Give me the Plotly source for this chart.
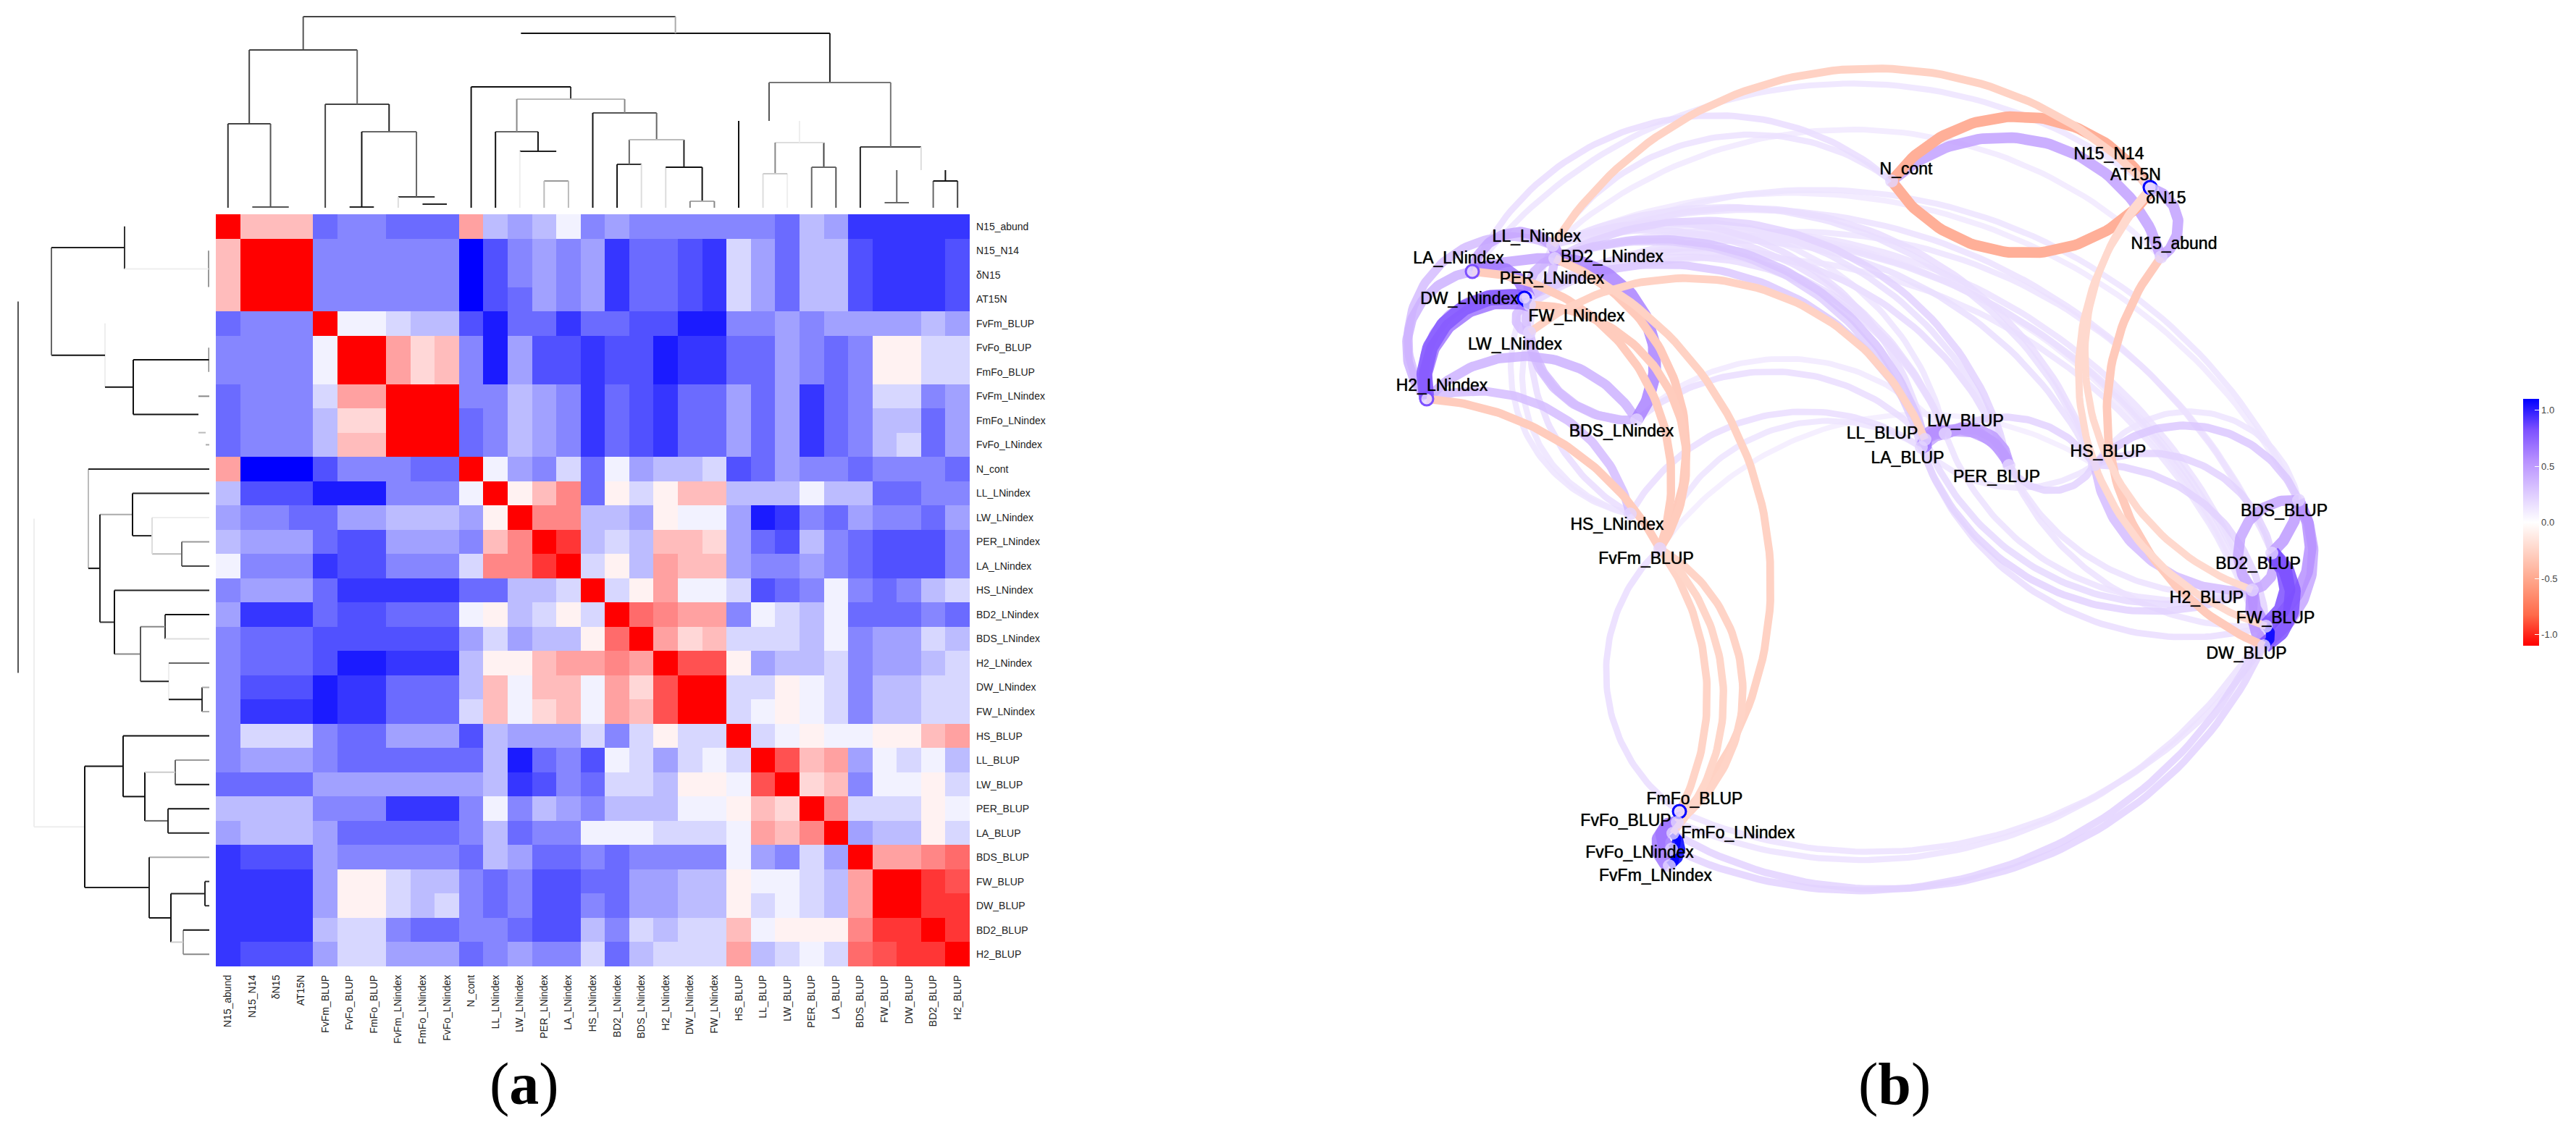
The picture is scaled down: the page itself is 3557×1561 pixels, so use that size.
import numpy as np
import plotly.colors as pc
import plotly.graph_objects as go

W, H = 3557, 1561

## HEATMAP DATA (palette steps: odd ints, -19 blue .. 19 red)
LABELS = ['N15_abund', 'N15_N14', 'δN15', 'AT15N', 'FvFm_BLUP', 'FvFo_BLUP', 'FmFo_BLUP',
          'FvFm_LNindex', 'FmFo_LNindex', 'FvFo_LNindex', 'N_cont', 'LL_LNindex', 'LW_LNindex',
          'PER_LNindex', 'LA_LNindex', 'HS_LNindex', 'BD2_LNindex', 'BDS_LNindex', 'H2_LNindex',
          'DW_LNindex', 'FW_LNindex', 'HS_BLUP', 'LL_BLUP', 'LW_BLUP', 'PER_BLUP', 'LA_BLUP',
          'BDS_BLUP', 'FW_BLUP', 'DW_BLUP', 'BD2_BLUP', 'H2_BLUP']

CORR = [
    [19,5,5,5,-11,-9,-9,-11,-11,-11,7,-5,-7,-5,-1,-9,-7,-9,-9,-9,-9,-9,-9,-11,-5,-7,-15,-15,-15,-15,-15],
    [5,19,19,19,-9,-9,-9,-9,-9,-9,-19,-13,-9,-7,-9,-7,-15,-11,-11,-13,-15,-3,-7,-11,-5,-5,-13,-15,-15,-15,-13],
    [5,19,19,19,-9,-9,-9,-9,-9,-9,-19,-13,-9,-7,-9,-7,-15,-11,-11,-13,-15,-3,-7,-11,-5,-5,-13,-15,-15,-15,-13],
    [5,19,19,19,-9,-9,-9,-9,-9,-9,-19,-13,-11,-7,-9,-7,-15,-11,-11,-13,-15,-3,-7,-11,-5,-5,-13,-15,-15,-15,-13],
    [-11,-9,-9,-9,19,-1,-1,-3,-5,-5,-13,-17,-11,-11,-15,-11,-11,-13,-13,-17,-17,-9,-9,-7,-9,-7,-7,-7,-7,-5,-7],
    [-9,-9,-9,-9,-1,19,19,7,3,5,-9,-17,-7,-13,-13,-15,-13,-13,-17,-15,-15,-11,-11,-7,-9,-11,-9,1,1,-3,-3],
    [-9,-9,-9,-9,-1,19,19,7,3,5,-9,-17,-7,-13,-13,-15,-13,-13,-17,-15,-15,-11,-11,-7,-9,-11,-9,1,1,-3,-3],
    [-11,-9,-9,-9,-3,7,7,19,19,19,-9,-9,-5,-7,-9,-15,-11,-13,-15,-11,-11,-7,-11,-7,-15,-11,-9,-3,-3,-9,-7],
    [-11,-9,-9,-9,-5,3,3,19,19,19,-11,-9,-5,-7,-9,-15,-11,-13,-15,-11,-11,-7,-11,-7,-15,-11,-9,-5,-5,-11,-7],
    [-11,-9,-9,-9,-5,5,5,19,19,19,-11,-9,-5,-7,-9,-15,-11,-13,-15,-11,-11,-7,-11,-7,-15,-11,-9,-5,-3,-11,-7],
    [7,-19,-19,-19,-13,-9,-9,-9,-11,-11,19,-1,-7,-9,-3,-11,-1,-7,-5,-5,-3,-13,-11,-7,-9,-9,-11,-9,-9,-9,-11],
    [-5,-13,-13,-13,-17,-17,-17,-9,-9,-9,-1,19,1,5,9,-11,1,-3,1,5,5,-5,-5,-5,-1,-5,-5,-11,-11,-9,-9],
    [-7,-9,-9,-11,-11,-7,-7,-5,-5,-5,-7,1,19,9,9,-5,-5,-7,1,-1,-1,-7,-17,-15,-9,-11,-7,-9,-9,-11,-7],
    [-5,-7,-7,-7,-11,-13,-13,-7,-7,-7,-9,5,9,19,15,-5,-3,-5,5,5,3,-7,-11,-13,-5,-9,-11,-13,-13,-13,-9],
    [-1,-9,-9,-9,-15,-13,-13,-9,-9,-9,-3,9,9,15,19,-3,1,-5,7,5,5,-7,-9,-9,-7,-9,-11,-13,-13,-13,-9],
    [-9,-7,-7,-7,-11,-15,-15,-15,-15,-15,-11,-11,-5,-5,-3,19,-3,1,7,-1,-1,-3,-13,-11,-9,-1,-9,-11,-9,-5,-3],
    [-7,-15,-15,-15,-11,-13,-13,-11,-11,-11,-1,1,-5,-3,1,-3,19,11,9,7,7,-9,-1,-3,-5,-1,-11,-11,-11,-9,-11],
    [-9,-11,-11,-11,-13,-13,-13,-13,-13,-13,-7,-3,-7,-5,-5,1,11,19,7,3,5,-3,-3,-3,-5,-1,-9,-7,-7,-3,-5],
    [-9,-11,-11,-11,-13,-17,-17,-15,-15,-15,-5,1,1,5,7,7,9,7,19,13,13,1,-7,-5,-5,-3,-9,-7,-7,-5,-3],
    [-9,-13,-13,-13,-17,-15,-15,-11,-11,-11,-5,5,-1,5,5,-1,7,3,13,19,19,-3,-3,1,-1,-3,-9,-5,-5,-3,-3],
    [-9,-15,-15,-15,-17,-15,-15,-11,-11,-11,-3,5,-1,3,5,-1,7,5,13,19,19,-3,-1,1,-1,-3,-9,-5,-5,-3,-3],
    [-9,-3,-3,-3,-9,-11,-11,-7,-7,-7,-13,-5,-7,-7,-7,-3,-9,-3,1,-3,-3,19,-3,-1,1,-1,-1,1,1,5,7],
    [-9,-7,-7,-7,-9,-11,-11,-11,-11,-11,-11,-5,-17,-11,-9,-13,-1,-3,-7,-3,-1,-3,19,13,5,7,-7,-1,-3,-1,-5],
    [-11,-11,-11,-11,-7,-7,-7,-7,-7,-7,-7,-5,-15,-13,-9,-11,-3,-3,-5,1,1,-1,13,19,3,5,-9,-1,-1,1,-3],
    [-5,-5,-5,-5,-9,-9,-9,-15,-15,-15,-9,-1,-9,-5,-7,-9,-5,-5,-5,-1,-1,1,5,3,19,9,-3,-3,-3,1,-1],
    [-7,-5,-5,-5,-7,-11,-11,-11,-11,-11,-9,-5,-11,-9,-9,-1,-1,-1,-3,-3,-3,-1,7,5,9,19,-7,-5,-5,1,-3],
    [-15,-13,-13,-13,-7,-9,-9,-9,-9,-9,-11,-5,-7,-11,-11,-9,-11,-9,-9,-9,-9,-1,-7,-9,-3,-7,19,7,7,9,11],
    [-15,-15,-15,-15,-7,1,1,-3,-5,-5,-9,-11,-9,-13,-13,-11,-11,-7,-7,-5,-5,1,-1,-1,-3,-5,7,19,19,15,13],
    [-15,-15,-15,-15,-7,1,1,-3,-5,-3,-9,-11,-9,-13,-13,-9,-11,-7,-7,-5,-5,1,-3,-1,-3,-5,7,19,19,15,15],
    [-15,-15,-15,-15,-5,-3,-3,-9,-11,-11,-9,-9,-11,-13,-13,-5,-9,-3,-5,-3,-3,5,-1,1,1,1,9,15,15,19,15],
    [-15,-13,-13,-13,-7,-3,-3,-7,-7,-7,-11,-9,-7,-9,-9,-3,-11,-5,-3,-3,-3,7,-5,-3,-1,-3,11,13,15,15,19],
]

## DENDROGRAM DATA: merges are (a, b), ids >= 31 point at an earlier merge
MERGES = [(2,3),(1,31),(0,32),(8,9),(7,34),(5,6),(36,35),(4,37),(33,38),(13,14),(12,40),(11,41),
          (19,20),(18,43),(16,17),(45,44),(15,46),(42,47),(10,48),(22,23),(24,25),(50,51),(21,52),
          (27,28),(29,30),(54,55),(26,56),(53,57),(49,58),(39,59)]
TOP_HEIGHT  = [-4,1,116,5,15,1,105,143,218,37,78,105,9,56,60,94,131,150,167,47,56,90,120,7,37,52,84,173,241,264]
SIDE_HEIGHT = [-4,1,117,5,15,0.5,105,144,218,38,79,106,10,56,61,95,131,151,167,47,57,89,119,6,36,53,83,172,242,264]

# grey of (bar, link a, link b) per merge, thin lines went uneven in the scan
TOP_GREY = ['fff','5ff','435','2ff','3df','2ff','616','442','446','9bb','2ef','611','a88','1d1','31d','b62',
            '516','b88','113','cde','665','d84','f1e','6ff','164','f61','42d','757','1f2','45a']
SIDE_GREY = ['fff','9ff','3fe','ffa','f8b','8ff','111','ef1','621','694','deb','122','3aa','e61','31d','582',
             '128','2a3','b21','691','212','1c6','111','233','918','12c','2a1','112','efe','5ff']

## NETWORK DATA
NODE_X = {'N_cont':2612,'N15_N14':2966,'AT15N':2969,'δN15':2972,'N15_abund':2984,
          'LL_LNindex':2144,'BD2_LNindex':2147,'LA_LNindex':2033,'PER_LNindex':2110,'DW_LNindex':2105,
          'FW_LNindex':2112,'LW_LNindex':2112,'H2_LNindex':1970,'BDS_LNindex':2260,'HS_LNindex':2251,
          'FvFm_BLUP':2292,'LL_BLUP':2658,'LA_BLUP':2653,'LW_BLUP':2686,'PER_BLUP':2774,'HS_BLUP':2892,
          'BDS_BLUP':3174,'BD2_BLUP':3137,'H2_BLUP':3110,'FW_BLUP':3129,'DW_BLUP':3126,
          'FmFo_BLUP':2319,'FvFo_BLUP':2316,'FmFo_LNindex':2310,'FvFo_LNindex':2308,'FvFm_LNindex':2305}
NODE_Y = {'N_cont':250,'N15_N14':256,'AT15N':259,'δN15':262,'N15_abund':355,
          'LL_LNindex':339,'BD2_LNindex':357,'LA_LNindex':375,'PER_LNindex':411,'DW_LNindex':412,
          'FW_LNindex':421,'LW_LNindex':459,'H2_LNindex':551,'BDS_LNindex':580,'HS_LNindex':710,
          'FvFm_BLUP':758,'LL_BLUP':607,'LA_BLUP':618,'LW_BLUP':599,'PER_BLUP':643,'HS_BLUP':642,
          'BDS_BLUP':691,'BD2_BLUP':764,'H2_BLUP':815,'FW_BLUP':865,'DW_BLUP':892,
          'FmFo_BLUP':1121,'FvFo_BLUP':1136,'FmFo_LNindex':1151,'FvFo_LNindex':1173,'FvFm_LNindex':1196}
TEXT_X = {'N_cont':2632,'N15_N14':2912,'AT15N':2949,'δN15':2991,'N15_abund':3002,
          'LL_LNindex':2122,'BD2_LNindex':2226,'LA_LNindex':2014,'PER_LNindex':2143,'DW_LNindex':2029,
          'FW_LNindex':2177,'LW_LNindex':2092,'H2_LNindex':1991,'BDS_LNindex':2239,'HS_LNindex':2233,
          'FvFm_BLUP':2273,'LL_BLUP':2599,'LA_BLUP':2634,'LW_BLUP':2714,'PER_BLUP':2757,'HS_BLUP':2911,
          'BDS_BLUP':3154,'BD2_BLUP':3118,'H2_BLUP':3047,'FW_BLUP':3142,'DW_BLUP':3102,
          'FmFo_BLUP':2340,'FvFo_BLUP':2245,'FmFo_LNindex':2400,'FvFo_LNindex':2264,'FvFm_LNindex':2286}
TEXT_Y = {'N_cont':235,'N15_N14':214,'AT15N':243,'δN15':275,'N15_abund':338,
          'LL_LNindex':328,'BD2_LNindex':356,'LA_LNindex':358,'PER_LNindex':386,'DW_LNindex':414,
          'FW_LNindex':438,'LW_LNindex':477,'H2_LNindex':534,'BDS_LNindex':597,'HS_LNindex':726,
          'FvFm_BLUP':773,'LL_BLUP':600,'LA_BLUP':634,'LW_BLUP':583,'PER_BLUP':660,'HS_BLUP':625,
          'BDS_BLUP':707,'BD2_BLUP':780,'H2_BLUP':827,'FW_BLUP':855,'DW_BLUP':904,
          'FmFo_BLUP':1105,'FvFo_BLUP':1135,'FmFo_LNindex':1152,'FvFo_LNindex':1179,'FvFm_LNindex':1211}
# nodes with a thin coloured rim
NODE_RIM = {'AT15N':'#0000ff','DW_LNindex':'#0000ff','FmFo_BLUP':'#0000ff','LA_LNindex':'#7d50ff','H2_LNindex':'#7d50ff'}

# node a, node b, correlation, bend of the arc (sagitta / chord, + is left of a->b on screen)
EDGES_N = [
    ('N_cont','N15_N14',-.42,.26), ('N_cont','δN15',-.42,-.26), ('N_cont','N15_abund',.42,.28),
    ('AT15N','N15_abund',.42,.32), ('N15_N14','AT15N',.98,.3), ('AT15N','δN15',.98,-.3),
    ('LA_LNindex','N_cont',.15,.25), ('LL_LNindex','N_cont',.13,.22), ('LA_LNindex','AT15N',.12,.21),
    ('LL_LNindex','N15_abund',.1,.2), ('LL_LNindex','AT15N',-.24,.245),
    ('AT15N','H2_BLUP',-.2,-.27), ('δN15','FW_BLUP',-.2,-.28), ('N15_abund','DW_BLUP',-.28,-.25),
]
EDGES_LEFT = [
    ('H2_LNindex','DW_LNindex',.72,.28), ('H2_LNindex','FW_LNindex',.6,.28), ('DW_LNindex','FW_LNindex',1.0,-.3),
    ('H2_LNindex','LA_LNindex',.35,.3), ('H2_LNindex','PER_LNindex',.4,.3), ('H2_LNindex','LL_LNindex',.3,.38),
    ('LA_LNindex','LL_LNindex',.4,.3), ('LA_LNindex','BD2_LNindex',.4,.05), ('LA_LNindex','PER_LNindex',.6,.25),
    ('LL_LNindex','PER_LNindex',.3,.2), ('PER_LNindex','BD2_LNindex',.35,.2), ('LL_LNindex','BD2_LNindex',.5,.2),
    ('BD2_LNindex','BDS_LNindex',.55,.3), ('H2_LNindex','BDS_LNindex',.35,.25), ('H2_LNindex','HS_LNindex',.3,.22),
    ('PER_LNindex','BDS_LNindex',.3,-.25), ('LW_LNindex','BDS_LNindex',.3,-.2), ('FW_LNindex','LW_LNindex',.3,-.5),
    ('PER_LNindex','HS_LNindex',.12,-.25), ('LW_LNindex','HS_LNindex',.12,-.22), ('LL_LNindex','HS_LNindex',.15,-.2),
    ('H2_LNindex','FvFm_BLUP',-.27,.13), ('LA_LNindex','FvFm_BLUP',-.27,.25), ('FW_LNindex','FvFm_BLUP',-.27,.3),
    ('BD2_LNindex','FvFm_BLUP',-.28,.23), ('BD2_LNindex','FvFo_BLUP',-.24,.26), ('LW_LNindex','LL_BLUP',-.24,.25),
]
EDGES_CROSS = [
    ('BD2_LNindex','LL_BLUP',.27,.22), ('PER_LNindex','LL_BLUP',.25,.22), ('LL_LNindex','LW_BLUP',.15,.2),
    ('BD2_LNindex','PER_BLUP',.2,.25), ('LL_LNindex','PER_BLUP',.14,.22), ('PER_LNindex','PER_BLUP',.14,.24),
    ('BD2_LNindex','HS_BLUP',.15,.24), ('LL_LNindex','HS_BLUP',.14,.22), ('LL_LNindex','BD2_BLUP',.13,.2),
    ('BD2_LNindex','FW_BLUP',.14,.2), ('BD2_LNindex','H2_BLUP',.13,.2), ('PER_LNindex','DW_BLUP',.12,.22),
    ('LL_LNindex','BDS_BLUP',.1,.2), ('FW_LNindex','BD2_BLUP',.12,.23), ('BD2_LNindex','LW_BLUP',.12,.25),
    ('FW_LNindex','LW_BLUP',.16,.24), ('PER_LNindex','LW_BLUP',.16,.24), ('DW_LNindex','PER_BLUP',.14,.24),
    ('BD2_LNindex','LA_BLUP',.22,.22), ('LL_LNindex','LL_BLUP',.16,.24), ('LL_LNindex','DW_BLUP',.1,.2),
    ('BD2_LNindex','BDS_BLUP',.12,.22), ('PER_LNindex','HS_BLUP',.14,.22), ('BD2_LNindex','DW_BLUP',.13,.21),
    ('HS_LNindex','LA_BLUP',.15,.22), ('BDS_LNindex','LL_BLUP',.15,.2), ('BDS_LNindex','LW_BLUP',.1,.22),
    ('FvFm_BLUP','LA_BLUP',.12,.25), ('FvFm_BLUP','HS_BLUP',.08,.2),
]
EDGES_RIGHT = [
    ('LL_BLUP','LA_BLUP',.6,.3), ('LL_BLUP','LW_BLUP',.5,.3), ('LA_BLUP','LW_BLUP',.5,.25),
    ('LL_BLUP','PER_BLUP',.45,.25), ('LW_BLUP','PER_BLUP',.45,.27), ('LA_BLUP','PER_BLUP',.4,.28),
    ('LW_BLUP','HS_BLUP',.2,.2), ('PER_BLUP','HS_BLUP',.2,-.3), ('LA_BLUP','HS_BLUP',.12,-.18),
    ('LL_BLUP','H2_BLUP',.17,-.2), ('LA_BLUP','H2_BLUP',.2,-.22), ('LA_BLUP','FW_BLUP',.15,-.2),
    ('LW_BLUP','H2_BLUP',.13,-.2), ('PER_BLUP','H2_BLUP',.13,-.17), ('PER_BLUP','FW_BLUP',.13,-.16),
    ('HS_BLUP','H2_BLUP',.3,-.2), ('HS_BLUP','BDS_BLUP',.25,.27), ('HS_BLUP','BD2_BLUP',.2,.24), ('HS_BLUP','FW_BLUP',.2,.2),
    ('HS_BLUP','BDS_BLUP',.12,.34), ('BDS_BLUP','FW_BLUP',.5,.2), ('BDS_BLUP','DW_BLUP',.4,.2),
    ('BDS_BLUP','H2_BLUP',.4,-.35), ('BDS_BLUP','BD2_BLUP',.45,.1), ('BD2_BLUP','FW_BLUP',.75,.25), ('BD2_BLUP','DW_BLUP',.75,.27),
    ('BD2_BLUP','H2_BLUP',.4,.25), ('H2_BLUP','FW_BLUP',.5,-.1), ('H2_BLUP','DW_BLUP',.5,-.1), ('FW_BLUP','DW_BLUP',1.0,.3),
]
EDGES_BOTTOM = [
    ('FvFm_BLUP','FmFo_BLUP',.15,-.24), ('FmFo_BLUP','DW_BLUP',.13,-.18), ('FvFo_BLUP','FW_BLUP',.13,-.19),
    ('FmFo_LNindex','DW_BLUP',.2,-.22), ('FvFo_LNindex','FW_BLUP',.2,-.21), ('FmFo_BLUP','FvFo_BLUP',.5,.3),
    ('FvFo_BLUP','FvFo_LNindex',.6,-.45), ('FvFo_BLUP','FvFm_LNindex',.6,-.35), ('FmFo_LNindex','FvFo_LNindex',1.0,.3),
    ('FvFo_LNindex','FvFm_LNindex',1.0,.3), ('FmFo_LNindex','FvFm_LNindex',1.0,.3),
    ('FvFm_BLUP','FmFo_BLUP',-.23,.14), ('FvFm_BLUP','FvFo_BLUP',-.23,.27), ('FvFm_BLUP','FmFo_LNindex',-.22,.2),
]
EDGES = EDGES_N + EDGES_LEFT + EDGES_CROSS + EDGES_RIGHT + EDGES_BOTTOM

BAR_TICKS = [1.0, 0.5, 0.0, -0.5, -1.0]
BAR_TEXT = ['1.0', '0.5', '0.0', '-0.5', '-1.0']

EDGE_SCALE = [[0, '#ff0000'], [.125, '#ff6a4a'], [.25, '#ffa084'], [.375, '#ffd0c2'], [.5, '#ffffff'],
              [.625, '#dcc8ff'], [.75, '#b790ff'], [.875, '#7d50ff'], [1, '#0000ff']]
HEAT_SCALE = [[0, '#0000ff'], [.5, '#ffffff'], [1, '#ff0000']]


def arc(a, b, bend, n=70):
    # circular arc from a to b, through the point bend*chord off the middle
    ax, ay, bx, by = NODE_X[a], NODE_Y[a], NODE_X[b], NODE_Y[b]
    dx, dy = bx - ax, by - ay
    chord = np.hypot(dx, dy)
    nx, ny = dy / chord, -dx / chord
    sag = bend * chord
    r = (chord**2 / 4 + sag**2) / (2 * abs(sag))
    tx, ty = (ax + bx) / 2 + nx * sag, (ay + by) / 2 + ny * sag
    cx, cy = tx - nx * np.sign(sag) * r, ty - ny * np.sign(sag) * r
    mid = np.arctan2(ty - cy, tx - cx)
    wrap = lambda v: (v + np.pi) % (2 * np.pi) - np.pi
    ang = mid + np.linspace(wrap(np.arctan2(ay - cy, ax - cx) - mid), wrap(np.arctan2(by - cy, bx - cx) - mid), n)
    return cx + r * np.cos(ang), cy + r * np.sin(ang)


def dendro_lines(heights, greys):
    # (position along the leaves, height) runs per grey
    pos, top = {i: i for i in range(31)}, {i: 0 for i in range(31)}
    runs = {}
    for i, ((a, b), h, g) in enumerate(zip(MERGES, heights, greys)):
        idx = i + 31
        pos[idx], top[idx] = (pos[a] + pos[b]) / 2, h
        parts = [(g[0], [pos[a], pos[b]], [h, h]), (g[1], [pos[a], pos[a]], [top[a], h]),
                 (g[2], [pos[b], pos[b]], [top[b], h])]
        for tone, p, v in parts:
            if tone != 'f':
                run = runs.setdefault(tone, ([], []))
                run[0].extend(p + [None])
                run[1].extend(v + [None])
    return runs


fig = go.Figure()

# panel (a)
fig.add_trace(go.Heatmap(z=CORR, x=list(range(31)), y=list(range(31)), colorscale=HEAT_SCALE,
                         zmin=-19, zmax=19, showscale=False, hoverinfo='skip', xgap=0, ygap=0))
for tone, (p, v) in dendro_lines(TOP_HEIGHT, TOP_GREY).items():
    fig.add_trace(go.Scatter(x=p, y=v, xaxis='x2', yaxis='y2', mode='lines', hoverinfo='skip',
                             line=dict(color='#' + tone * 6, width=2)))
for tone, (p, v) in dendro_lines(SIDE_HEIGHT, SIDE_GREY).items():
    fig.add_trace(go.Scatter(x=v, y=p, xaxis='x3', yaxis='y3', mode='lines', hoverinfo='skip',
                             line=dict(color='#' + tone * 6, width=2)))

# panel (b), pale edges below, red ones last
for a, b, w, bend in sorted(EDGES, key=lambda e: (e[2] < 0, e[2])):
    x, y = arc(a, b, bend)
    tint = pc.sample_colorscale(EDGE_SCALE, [(w + 1) / 2])[0]
    thick = 12 if abs(w) > .9 else 5.5 + 22 * abs(w)
    fig.add_trace(go.Scatter(x=x, y=y, xaxis='x4', yaxis='y4', mode='lines', hoverinfo='skip',
                             opacity=1 if w < 0 else .85, line=dict(color=tint, width=thick)))
names = list(NODE_X)
fig.add_trace(go.Scatter(x=[NODE_X[n] for n in names], y=[NODE_Y[n] for n in names], xaxis='x4', yaxis='y4',
                         mode='markers', hoverinfo='skip',
                         marker=dict(size=18, color='rgba(228,212,255,.8)',
                                     line=dict(width=[3 if n in NODE_RIM else 0 for n in names],
                                               color=[NODE_RIM.get(n, '#ffffff') for n in names]))))
fig.add_trace(go.Scatter(x=[TEXT_X[n] for n in names], y=[TEXT_Y[n] for n in names], xaxis='x4', yaxis='y4',
                         mode='text', text=names, hoverinfo='skip',
                         textfont=dict(family='Liberation Sans', size=23, color='#000000',
                                       shadow='0 0 1px rgba(0,0,0,.9)')))
# carries the colour bar only
fig.add_trace(go.Scatter(x=[NODE_X[e[0]] for e in EDGES], y=[NODE_Y[e[0]] for e in EDGES], xaxis='x4', yaxis='y4',
                         mode='markers', hoverinfo='skip',
                         marker=dict(size=1, opacity=0, color=[e[2] for e in EDGES], colorscale=EDGE_SCALE,
                                     cmin=-1.1, cmax=1.1, showscale=True,
                                     colorbar=dict(x=3484 / W, xanchor='left', y=1 - 721.5 / H, yanchor='middle',
                                                   lenmode='pixels', len=341, thickness=22, thicknessmode='pixels',
                                                   xpad=0, ypad=0, outlinewidth=0, ticks='inside', ticklen=6,
                                                   tickcolor='white', tickvals=BAR_TICKS, ticktext=BAR_TEXT,
                                                   tickfont=dict(family='Liberation Sans', size=13, color='#444444')))))

px = lambda v: v / W
py = lambda v: 1 - v / H
hidden = dict(visible=False, showgrid=False, zeroline=False)
tickfont = dict(family='Liberation Sans', size=14, color='#222222')
panel_font = dict(family='Liberation Serif', size=82, color='black')
fig.update_layout(
    width=W, height=H, margin=dict(l=0, r=0, t=0, b=0), showlegend=False,
    paper_bgcolor='white', plot_bgcolor='rgba(0,0,0,0)',
    xaxis=dict(domain=[px(298), px(1339)], range=[-.5, 30.5], tickvals=list(range(31)), ticktext=LABELS,
               tickangle=-90, tickfont=tickfont, ticks='', ticklabelstandoff=8, showgrid=False, zeroline=False),
    yaxis=dict(domain=[py(1335), py(296)], range=[30.5, -.5], side='right', tickvals=list(range(31)), ticktext=LABELS,
               tickfont=tickfont, ticks='', ticklabelstandoff=8, showgrid=False, zeroline=False),
    xaxis2=dict(domain=[px(298), px(1339)], range=[-.5, 30.5], anchor='y2', **hidden),
    yaxis2=dict(domain=[py(287), py(15)], range=[0, 272], anchor='x2', **hidden),
    xaxis3=dict(domain=[px(15), px(289)], range=[274, 0], anchor='y3', **hidden),
    yaxis3=dict(domain=[py(1335), py(296)], range=[30.5, -.5], anchor='x3', **hidden),
    xaxis4=dict(domain=[0, 1], range=[0, W], anchor='y4', **hidden),
    yaxis4=dict(domain=[0, 1], range=[H, 0], anchor='x4', **hidden),
    annotations=[
        dict(x=px(724), y=py(1497), xref='paper', yref='paper', xanchor='center', yanchor='middle',
             text='(<b>a</b>)', showarrow=False, font=panel_font),
        dict(x=px(2616), y=py(1497), xref='paper', yref='paper', xanchor='center', yanchor='middle',
             text='(<b>b</b>)', showarrow=False, font=panel_font),
    ],
)

fig.write_html("out.html", config=dict(displayModeBar=False),
               post_script="document.body.style.margin='0';document.body.style.overflow='hidden';")
